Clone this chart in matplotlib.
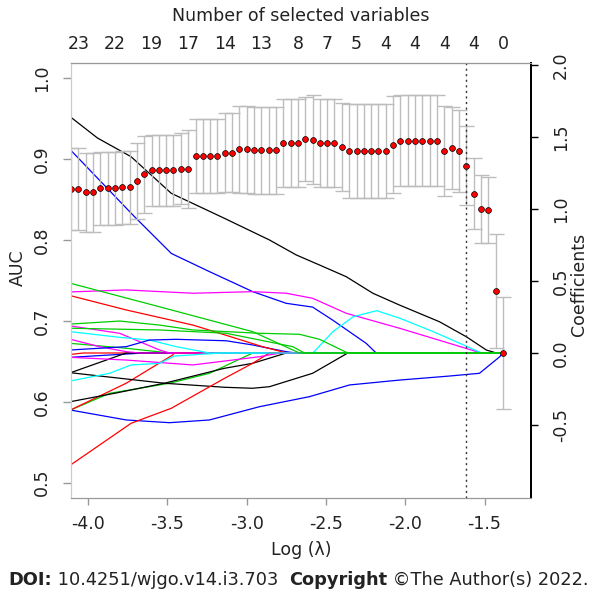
import matplotlib
matplotlib.use('Agg')
import matplotlib.pyplot as plt

plt.rcParams['font.family'] = ['DejaVu Sans']

# cross-validation grid: log(lambda), mean AUC and its standard error
log_lambda = [-4.107, -4.061, -4.015, -3.969, -3.922, -3.876, -3.830, -3.784, -3.738, -3.692,
              -3.646, -3.599, -3.553, -3.507, -3.461, -3.415, -3.369, -3.322, -3.276, -3.230,
              -3.184, -3.138, -3.092, -3.046, -2.999, -2.953, -2.907, -2.861, -2.815, -2.769,
              -2.723, -2.676, -2.630, -2.584, -2.538, -2.492, -2.446, -2.400, -2.353, -2.307,
              -2.261, -2.215, -2.169, -2.123, -2.077, -2.030, -1.984, -1.938, -1.892, -1.846,
              -1.800, -1.753, -1.707, -1.661, -1.615, -1.569, -1.523, -1.477, -1.430, -1.384]
auc_mean = [0.863, 0.863, 0.859, 0.859, 0.864, 0.864, 0.864, 0.865, 0.865, 0.873,
            0.881, 0.886, 0.886, 0.886, 0.886, 0.888, 0.888, 0.904, 0.904, 0.904,
            0.904, 0.908, 0.908, 0.912, 0.912, 0.911, 0.911, 0.911, 0.911, 0.920,
            0.920, 0.920, 0.925, 0.924, 0.920, 0.920, 0.920, 0.915, 0.910, 0.910,
            0.910, 0.910, 0.910, 0.910, 0.918, 0.923, 0.923, 0.923, 0.923, 0.923,
            0.923, 0.910, 0.914, 0.910, 0.892, 0.857, 0.838, 0.837, 0.737, 0.660]
auc_sd = [0.051, 0.051, 0.049, 0.049, 0.045, 0.045, 0.045, 0.045, 0.045, 0.047,
          0.047, 0.044, 0.044, 0.044, 0.044, 0.044, 0.048, 0.046, 0.046, 0.046,
          0.046, 0.049, 0.049, 0.054, 0.054, 0.054, 0.054, 0.054, 0.054, 0.054,
          0.054, 0.054, 0.052, 0.055, 0.054, 0.054, 0.054, 0.054, 0.058, 0.058,
          0.058, 0.058, 0.058, 0.058, 0.060, 0.056, 0.056, 0.056, 0.056, 0.056,
          0.056, 0.056, 0.051, 0.051, 0.049, 0.044, 0.042, 0.041, 0.071, 0.069]

lambda_best = -1.615

# number of selected variables (top axis)
top_at = [-4.061, -3.830, -3.599, -3.369, -3.138, -2.907, -2.676,
          -2.492, -2.307, -2.123, -1.938, -1.753, -1.569, -1.384]
top_labels = ['23', '22', '19', '17', '14', '13', '8', '7', '5', '4', '4', '4', '4', '0']

# coefficient paths
k1_x = [-4.110, -3.940, -3.728, -3.475, -3.139, -2.856, -2.687, -2.540, -2.372, -2.204,
        -2.036, -1.784, -1.615, -1.489, -1.426]
k1_y = [1.639, 1.493, 1.363, 1.109, 0.935, 0.785, 0.681, 0.611, 0.530, 0.415,
        0.333, 0.217, 0.113, 0.021, 0.0]
k2_x = [-4.110, -3.518, -3.139, -2.963, -2.856, -2.584, -2.362]
k2_y = [-0.137, -0.210, -0.238, -0.245, -0.234, -0.141, 0.0]
k3_x = [-4.110, -3.759]
k3_y = [-0.137, 0.0]
k4_x = [-4.110, -3.833, -3.518, -3.139, -2.963, -2.750]
k4_y = [-0.338, -0.280, -0.210, -0.106, -0.072, 0.0]

b1_x = [-4.110, -3.707, -3.475, -3.455, -3.234, -2.961, -2.750, -2.584, -2.458, -2.246, -2.183]
b1_y = [1.410, 0.947, 0.692, 0.681, 0.565, 0.426, 0.345, 0.319, 0.229, 0.067, 0.0]
b2_x = [-4.110, -3.759, -3.612, -3.444, -3.129, -2.963, -2.750, -2.687]
b2_y = [0.021, 0.044, 0.090, 0.095, 0.085, 0.056, 0.009, 0.0]
b3_x = [-4.110, -3.650]
b3_y = [-0.030, 0.0]
b4_x = [-4.110, -3.759, -3.486, -3.234, -2.919, -2.603, -2.351, -2.036, -1.721, -1.532,
        -1.404, -1.386]
b4_y = [-0.396, -0.465, -0.484, -0.465, -0.373, -0.303, -0.222, -0.188, -0.160, -0.141,
        -0.026, 0.0]

m1_x = [-4.110, -3.759, -3.339, -2.961, -2.750, -2.584, -2.372, -2.036, -1.721, -1.521]
m1_y = [0.424, 0.438, 0.415, 0.426, 0.415, 0.380, 0.276, 0.172, 0.067, 0.0]
m2_x = [-4.110, -3.801, -3.549, -3.486]
m2_y = [0.188, 0.137, 0.021, 0.0]
m3_x = [-4.110, -3.927, -3.759, -3.675]
m3_y = [0.095, 0.044, 0.009, 0.0]
m4_x = [-4.110, -3.759, -3.339, -2.919, -2.790]
m4_y = [-0.030, -0.049, -0.083, -0.026, 0.0]

c1_x = [-4.110, -3.801, -3.612, -3.444, -3.234, -2.582, -2.456, -2.328, -2.180, -2.033,
        -1.823, -1.655, -1.518]
c1_y = [0.148, 0.109, 0.090, 0.044, 0.0, 0.0, 0.148, 0.252, 0.294, 0.241,
        0.148, 0.067, 0.0]
c2_x = [-4.110, -3.864, -3.728, -3.549, -3.455, -3.160]
c2_y = [-0.194, -0.141, -0.083, -0.072, -0.021, 0.0]

g1_x = [-4.110, -3.549, -2.961, -2.667]
g1_y = [0.484, 0.321, 0.148, 0.0]
g2_x = [-4.110, -3.800, -3.549, -3.339, -2.919, -2.667, -2.540, -2.362]
g2_y = [0.201, 0.222, 0.194, 0.160, 0.137, 0.130, 0.095, 0.0]
g3_x = [-4.110, -3.549, -3.129, -2.709, -2.635]
g3_y = [0.172, 0.160, 0.137, 0.044, 0.0]
g4_x = [-4.110, -3.759, -3.486]
g4_y = [0.067, 0.033, 0.0]
g5_x = [-4.110, -3.864, -3.486, -3.234, -2.961]
g5_y = [-0.396, -0.280, -0.210, -0.141, 0.0]

r1_x = [-4.110, -3.759, -3.339, -3.170, -2.900, -2.748]
r1_y = [0.398, 0.299, 0.194, 0.137, 0.044, 0.0]
r2_x = [-4.110, -3.759, -3.466, -3.455]
r2_y = [-0.396, -0.210, -0.014, 0.0]
r3_x = [-4.110, -3.728, -3.475, -3.139, -2.963, -2.856]
r3_y = [-0.778, -0.488, -0.384, -0.176, -0.072, 0.0]
r4_x = [-4.110, -4.030]
r4_y = [-0.010, 0.0]

BLACK, RED, GREEN, BLUE, CYAN, MAGENTA = 'black', '#FF0000', '#00CD00', '#0000FF', '#00FFFF', '#FF00FF'

# drawing order (last drawn sets the colour of the zero line)
paths = [
    (g4_x, g4_y, GREEN), (g5_x, g5_y, GREEN), (r4_x, r4_y, RED), (b3_x, b3_y, BLUE),
    (k3_x, k3_y, BLACK), (m3_x, m3_y, MAGENTA), (r2_x, r2_y, RED), (m2_x, m2_y, MAGENTA),
    (k1_x, k1_y, BLACK), (b1_x, b1_y, BLUE), (m1_x, m1_y, MAGENTA), (c1_x, c1_y, CYAN),
    (k2_x, k2_y, BLACK), (k4_x, k4_y, BLACK), (b4_x, b4_y, BLUE), (b2_x, b2_y, BLUE),
    (r3_x, r3_y, RED), (r1_x, r1_y, RED), (m4_x, m4_y, MAGENTA), (c2_x, c2_y, CYAN),
    (g3_x, g3_y, GREEN), (g1_x, g1_y, GREEN), (g2_x, g2_y, GREEN),
]

W, H = 597, 594
fig = plt.figure(figsize=(W / 100, H / 100), dpi=100)
L, R, T, B = 71, 531, 63, 498
ax = fig.add_axes([L / W, 1 - B / H, (R - L) / W, (B - T) / H])
ax2 = ax.twinx()
ax.set_zorder(2)
ax.patch.set_visible(False)

# coefficient paths on right axis
for xs, ys, col in paths:
    xs = list(xs)
    ys = list(ys)
    if xs[-1] < log_lambda[-1]:
        xs.append(log_lambda[-1])
        ys.append(0.0)
    ax2.plot(xs, ys, color=col, lw=0.9)

# AUC with error bars
ax.errorbar(log_lambda, auc_mean, yerr=auc_sd, fmt='none', ecolor='#bdbdbd',
            elinewidth=1.0, capsize=5.4, capthick=1.0)
ax.plot(log_lambda, auc_mean, 'o', color='#FF0000', mec='black', mew=0.5, ms=4.2)
ax.axvline(lambda_best, color='#333333', ls=(0, (1.5, 2.5)), lw=1.0)

ax.set_xlim(-4.107, -1.207)
ax.set_ylim(0.4811, 1.0188)
ax2.set_ylim(-1.007, 2.014)

tc = '#222222'
ax.set_yticks([0.5, 0.6, 0.7, 0.8, 0.9, 1.0])
ax.set_yticklabels(['0.5', '0.6', '0.7', '0.8', '0.9', '1.0'], rotation=90, va='center')
ax.set_xticks([-4.0, -3.5, -3.0, -2.5, -2.0, -1.5])
ax.set_xticklabels(['-4.0', '-3.5', '-3.0', '-2.5', '-2.0', '-1.5'])
ax2.set_yticks([-0.5, 0.0, 0.5, 1.0, 1.5, 2.0])
ax2.set_yticklabels(['-0.5', '0.0', '0.5', '1.0', '1.5', '2.0'], rotation=90, va='center')

fs = 12.5
ax.tick_params(axis='x', length=5, width=1, color='#999999', labelsize=fs, labelcolor=tc, pad=7)
ax.tick_params(axis='y', length=5.5, width=1, color='#999999', labelsize=fs, labelcolor=tc, pad=9)
ax2.tick_params(axis='y', length=5, width=1, color='black', labelsize=fs, labelcolor=tc, pad=10)

for a in (ax, ax2):
    a.spines['left'].set_color('#cccccc')
    a.spines['top'].set_color('#999999')
    a.spines['bottom'].set_color('#999999')
    a.spines['right'].set_color('black')
    a.spines['right'].set_linewidth(1.4)

top = ax.secondary_xaxis('top')
top.set_xticks(top_at)
top.set_xticklabels(top_labels)
top.tick_params(length=0, labelsize=fs, labelcolor=tc, pad=7)
top.spines['top'].set_color('#999999')
top.set_xlabel('Number of selected variables', fontsize=fs, color=tc, labelpad=10)

ax.set_xlabel('Log (\u03bb)', fontsize=fs, color=tc, labelpad=6)
ax.set_ylabel('AUC', fontsize=fs, color=tc)
ax.yaxis.set_label_coords(-0.097, 0.53)
ax2.set_ylabel('Coefficients', fontsize=fs, color=tc)
ax2.yaxis.set_label_coords(1.084, 0.49)

# footer
fig.canvas.draw()
rend = fig.canvas.get_renderer()
parts = [('DOI:', 'bold'), (' 10.4251/wjgo.v14.i3.703  ', 'normal'),
         ('Copyright', 'bold'), (' \u00a9The Author(s) 2022.', 'normal')]
xpos = 8
for txt, wt in parts:
    t = fig.text(xpos / W, 1 - 580 / H, txt, fontsize=12.8, fontweight=wt,
                 color='#222222', va='center', ha='left')
    bb = t.get_window_extent(rend)
    xpos = bb.x1

fig.savefig('out.png', dpi=100)
